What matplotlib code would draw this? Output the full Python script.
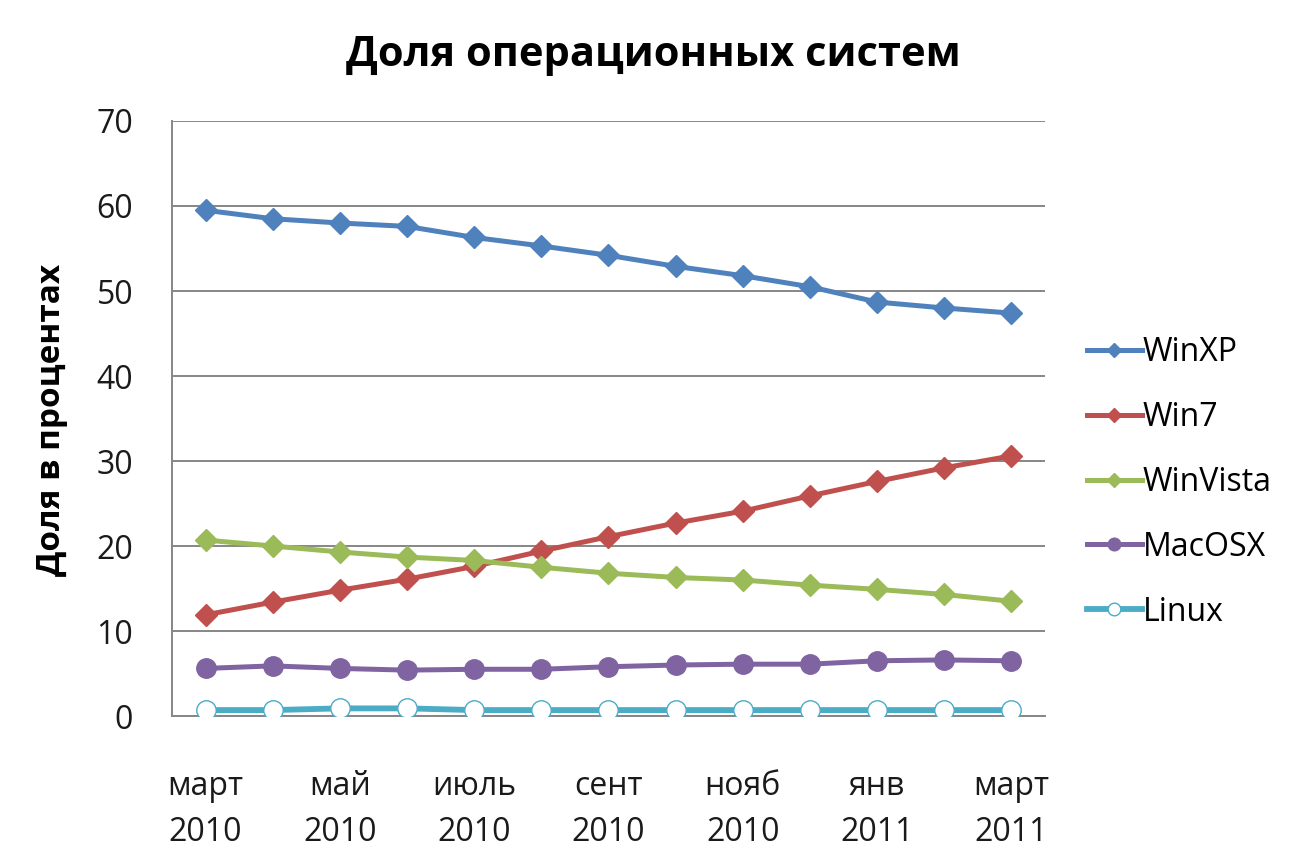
import matplotlib
matplotlib.use("Agg")
import matplotlib.pyplot as plt

plt.rcParams['font.family'] = ['Open Sans', 'DejaVu Sans']

months = ["март\n2010", "апр\n2010", "май\n2010", "июнь\n2010", "июль\n2010", "авг\n2010",
          "сент\n2010", "окт\n2010", "нояб\n2010", "дек\n2010", "янв\n2011", "фев\n2011", "март\n2011"]
winxp = [59.5, 58.5, 58.0, 57.6, 56.3, 55.3, 54.2, 52.9, 51.8, 50.5, 48.7, 48.0, 47.4]
win7 = [11.9, 13.4, 14.8, 16.1, 17.6, 19.4, 21.1, 22.7, 24.1, 25.9, 27.6, 29.2, 30.6]
winvista = [20.7, 20.0, 19.3, 18.7, 18.3, 17.5, 16.8, 16.3, 16.0, 15.4, 14.9, 14.3, 13.5]
macosx = [5.6, 5.9, 5.6, 5.4, 5.5, 5.5, 5.8, 6.0, 6.1, 6.1, 6.5, 6.6, 6.5]
linux = [0.7, 0.7, 0.9, 0.9, 0.7, 0.7, 0.7, 0.7, 0.7, 0.7, 0.7, 0.7, 0.7]
series_names = ["WinXP", "Win7", "WinVista", "MacOSX", "Linux"]
yticks = [0, 10, 20, 30, 40, 50, 60, 70]

fig = plt.figure(figsize=(12.89, 8.63), dpi=100)
ax = fig.add_axes([0.1334, 0.1703, 0.8107 - 0.1334, 0.8598 - 0.1703])

x = list(range(len(months)))
lw = 3.6
ax.plot(x, winxp, color="#4f81bd", lw=lw, marker="D", ms=11, mec="#4f81bd", label=series_names[0], zorder=5)
ax.plot(x, win7, color="#c0504d", lw=lw, marker="D", ms=11, mec="#c0504d", label=series_names[1], zorder=5)
ax.plot(x, winvista, color="#9bbb59", lw=lw, marker="D", ms=11, mec="#9bbb59", label=series_names[2], zorder=5)
ax.plot(x, macosx, color="#8064a2", lw=lw, marker="o", ms=14, mec="#8064a2", label=series_names[3], zorder=5)
ax.plot(x, linux, color="#4bacc6", lw=lw + 0.6, marker="o", ms=14, mfc="white", mec="#4bacc6", mew=1.0,
        label=series_names[4], zorder=5)

ax.set_xlim(-0.5, 12.5)
ax.set_ylim(0, 70)
ax.set_yticks(yticks)
ax.set_xticks(x[::2])
ax.set_xticklabels(months[::2])
ax.tick_params(axis="x", length=0, pad=39, labelsize=23, colors="#1a1a1a")
ax.tick_params(axis="y", length=0, pad=28, labelsize=23, colors="#1a1a1a")
for lbl in ax.get_xticklabels():
    lbl.set_linespacing(1.5)

ax.grid(axis="y", color="#868686", lw=1.4)
ax.set_axisbelow(True)
for s in ["top", "right"]:
    ax.spines[s].set_visible(False)
for s in ["left", "bottom"]:
    ax.spines[s].set_color("#868686")
    ax.spines[s].set_linewidth(1.4)

ax.set_ylabel("Доля в процентах", fontsize=24, fontweight="bold")
ax.yaxis.set_label_coords(-0.119, 0.497)
fig.text(0.507, 0.936, "Доля операционных систем", fontsize=30, fontweight="bold",
         ha="center", va="center")

leg = ax.legend(loc="center left", bbox_to_anchor=(1.0, 0.393), frameon=False, fontsize=23,
                handlelength=1.75, handletextpad=0.0, labelspacing=1.0, borderaxespad=0.9,
                markerscale=0.65)

fig.savefig("out.png", dpi=100)
